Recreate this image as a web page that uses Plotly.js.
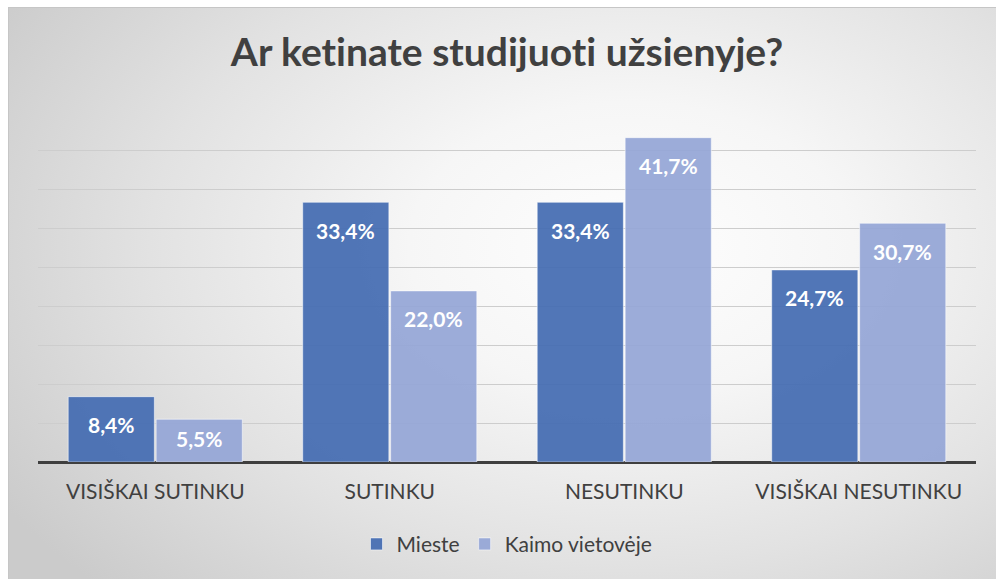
<!DOCTYPE html>
<html>
<head>
<meta charset="utf-8">
<script src="https://cdn.plot.ly/plotly-3.0.1.min.js"></script>
<style>
  html, body { margin: 0; padding: 0; background: #ffffff; width: 996px; height: 579px; overflow: hidden; }
  #wrap {
    position: absolute; left: 8px; top: 7px; width: 988px; height: 572px;
    border-left: 1px solid #c6c6c6; border-top: 1px solid #c6c6c6; box-sizing: border-box;
    background: radial-gradient(ellipse 75% 85% at 63% 42%, #fefefe 0%, #f6f6f6 30%, #e2e2e2 65%, #cbcbcb 100%);
  }
  #chart { width: 987px; height: 571px; }
  #chart text { font-variant-ligatures: none; font-feature-settings: "liga" 0, "clig" 0; }
</style>
</head>
<body>
<div id="wrap"><div id="chart"></div></div>
<script>
const categories = ["VISIŠKAI SUTINKU", "SUTINKU", "NESUTINKU", "VISIŠKAI NESUTINKU"];
const seriesNames = ["Mieste", "Kaimo vietovėje"];
const mieste = [8.4, 33.4, 33.4, 24.7];
const kaimo = [5.5, 22.0, 41.7, 30.7];
const seriesColors = ["rgba(68,108,178,0.93)", "rgba(148,166,214,0.93)"];

const fmt = v => v.toFixed(1).replace(".", ",") + "%";

const traces = [mieste, kaimo].map((vals, k) => ({
  type: "bar",
  name: seriesNames[k],
  x: categories,
  y: vals,
  marker: { color: seriesColors[k], line: { color: "rgba(255,255,255,0.55)", width: 1 } },
  hoverinfo: "skip"
}));

const yMax = 45;
const plotH = 571 - 104 - 117;
const pxPerUnit = plotH / yMax;
const annotations = [];
[mieste, kaimo].forEach((vals, k) => {
  vals.forEach((v, i) => {
    const h = v * pxPerUnit;
    annotations.push({
      x: i + (k === 0 ? -0.1875 : 0.1875),
      y: v,
      xref: "x", yref: "y",
      text: "<b>" + fmt(v) + "</b>",
      showarrow: false,
      yshift: -Math.min(28, h / 2 - 2),
      font: { family: "Lato, 'Open Sans', sans-serif", size: 21, color: "#ffffff" }
    });
  });
});

const layout = {
  width: 987, height: 571,
  paper_bgcolor: "rgba(0,0,0,0)",
  plot_bgcolor: "rgba(0,0,0,0)",
  margin: { l: 29, r: 20, t: 104, b: 117 },
  title: {
    text: "<b>Ar ketinate studijuoti užsienyje?</b>",
    font: { family: "Lato, 'Open Sans', sans-serif", size: 39, color: "#404040" },
    x: 0.5, xanchor: "center", y: 0.922, yanchor: "middle", xref: "paper"
  },
  barmode: "group",
  bargap: 0.25,
  bargroupgap: 0.02,
  xaxis: {
    type: "category",
    showgrid: false, showline: false, zeroline: false,
    ticks: "", ticklabelstandoff: 15,
    tickfont: { family: "Lato, 'Open Sans', sans-serif", size: 21, color: "#404040" },
    fixedrange: true
  },
  yaxis: {
    range: [0, yMax], dtick: 5,
    showticklabels: false, ticks: "",
    showgrid: true, gridcolor: "#cdcdcd", gridwidth: 1,
    zeroline: true, zerolinecolor: "#3f3f3f", zerolinewidth: 3,
    showline: false, fixedrange: true
  },
  showlegend: true,
  legend: {
    orientation: "h", x: 0.5, xanchor: "center", y: -0.235, yanchor: "middle",
    font: { family: "Lato, 'Open Sans', sans-serif", size: 21, color: "#404040" },
    bgcolor: "rgba(0,0,0,0)", itemwidth: 30, traceorder: "normal"
  },
  annotations: annotations
};

Plotly.newPlot("chart", traces, layout, { displayModeBar: false, staticPlot: true });
</script>
</body>
</html>
